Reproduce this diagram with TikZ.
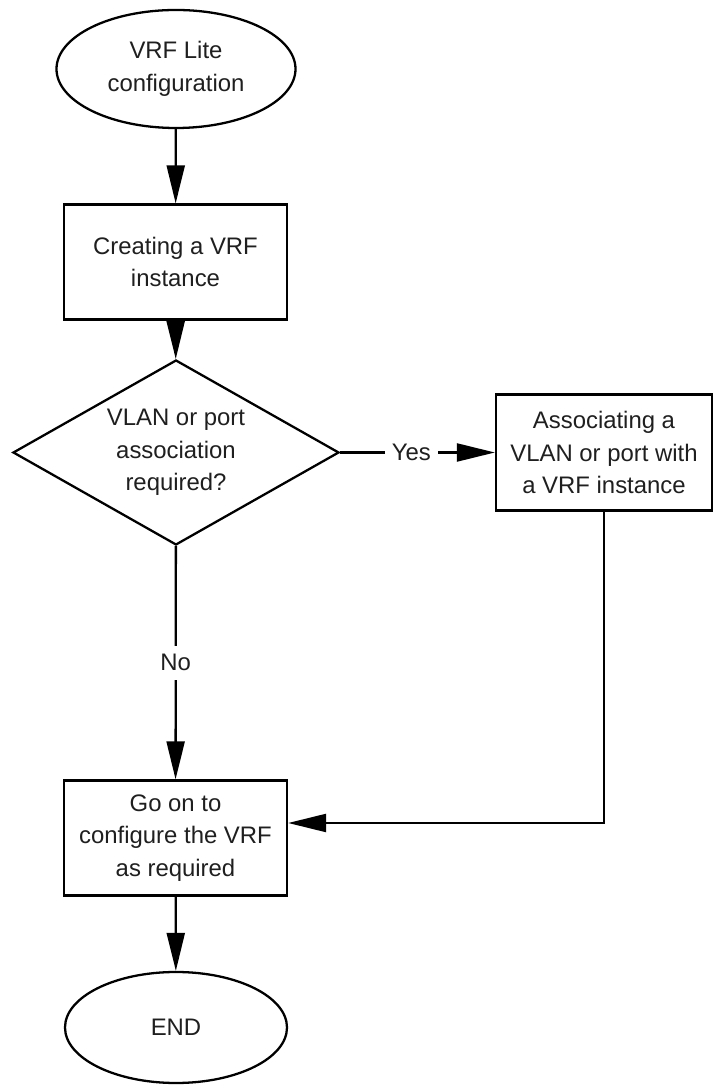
\documentclass[tikz,border=0pt]{standalone}
\usepackage{fontspec}
\setmainfont{Liberation Sans}
\usetikzlibrary{shapes.geometric,arrows.meta}
\begin{document}
\begin{tikzpicture}[every node/.style={align=center, inner sep=0pt, text=black!88, font=\fontsize{13.6}{18.5}\selectfont},
		term/.style={draw, ellipse, line width=1.3pt},
		stepbox/.style={draw, rectangle, line width=1.3pt, minimum width=4.46cm, minimum height=2.3cm},
		decision/.style={draw, diamond, aspect=1.76, line width=1.3pt, minimum width=6.52cm, minimum height=3.7cm},
		answer/.style={fill=white, inner xsep=4pt, inner ysep=5pt},
		flow/.style={line width=1.3pt, -{Triangle[length=0.76cm, width=0.36cm]}}]
				% \draw[help lines] (0,0) grid (14,21);
				\useasboundingbox (0,0) rectangle (14.26,21.7);

				\node (start) at (3.52,20.32) [term, minimum width=4.78cm, minimum height=2.36cm] {VRF Lite\\configuration};
				\node (create) at (3.51,16.46) [stepbox] {Creating a VRF\\instance};
				\node (needvlan) at (3.52,12.65) [decision] {VLAN or port\\association\\required?};
				\node (assoc) at (12.08,12.65) [stepbox, minimum width=4.32cm, minimum height=2.32cm] {Associating a\\VLAN or port with\\a VRF instance};
				\node (goon) at (3.51,4.94) [stepbox] {Go on to\\configure the VRF\\as required};
				\node (finish) at (3.52,1.15) [term, minimum width=4.44cm, minimum height=2.22cm] {END};

				\draw[flow] (start) -- (create);
				\draw[flow] (create) -- (needvlan);
				\draw[flow] (needvlan) -- node[answer, pos=0.46] {Yes} (assoc);
				\draw[flow] (needvlan) -- node[answer] {No} (goon);
				\draw[flow] (assoc.south) |- ([yshift=3mm]goon.east);
				\draw[flow] (goon) -- (finish);
			\end{tikzpicture}
\end{document}
